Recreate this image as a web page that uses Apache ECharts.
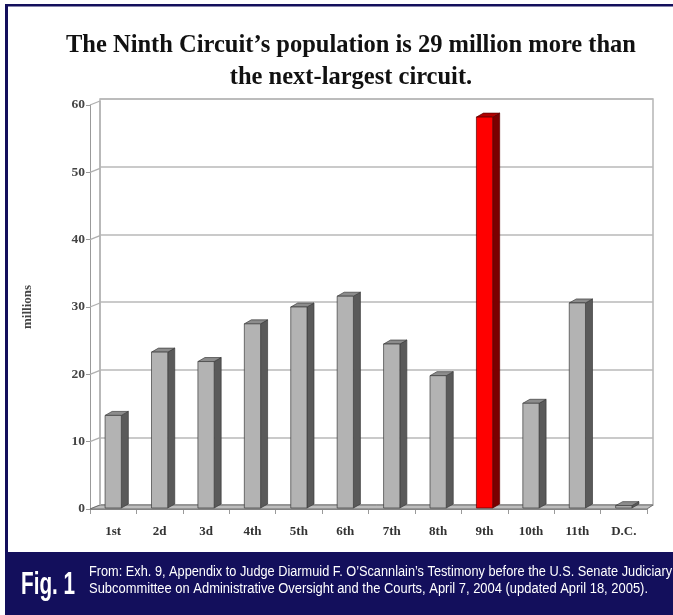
<!DOCTYPE html>
<html>
<head>
<meta charset="utf-8">
<script src="https://cdn.jsdelivr.net/npm/echarts@6/dist/echarts.min.js"></script>
<style>
html,body{margin:0;padding:0;background:#fff;}
#chart{width:673px;height:615px;}
</style>
</head>
<body>
<div id="chart"></div>
<script>
// ---- data ----
const categories = ['1st','2d','3d','4th','5th','6th','7th','8th','9th','10th','11th','D.C.'];
const populations = [13.9, 23.3, 21.9, 27.5, 30.0, 31.6, 24.5, 19.8, 58.2, 15.7, 30.6, 0.5];
const highlightCategory = '9th';
const yTicks = [0, 10, 20, 30, 40, 50, 60];
const titleLines = ["The Ninth Circuit\u2019s population is 29 million more than", "the next-largest circuit."];
const yAxisName = 'millions';
const figLabel = 'Fig. 1';
const sourceLines = [
  "From: Exh. 9, Appendix to Judge Diarmuid F. O\u2019Scannlain\u2019s Testimony before the U.S. Senate Judiciary",
  "Subcommittee on Administrative Oversight and the Courts, April 7, 2004 (updated April 18, 2005)."
];

// ---- styling helpers ----
const NAVY = '#130f5c';
const DX = 10, DY = 4;      // depth offset of the back wall
const BDX = 7, BDY = 4;     // depth of the bars
const ctx = document.createElement('canvas').getContext('2d');
function fitScale(text, font, width) { ctx.font = font; return width / ctx.measureText(text).width; }

const chart = echarts.init(document.getElementById('chart'), null, {renderer: 'canvas'});

const srcFont = '14px "Liberation Sans"';
const figFont = 'bold 32px "Liberation Sans"';

const option = {
  backgroundColor: '#fff',
  animation: false,
  title: {
    text: titleLines.join('\n'),
    left: 346,
    top: 25,
    textAlign: 'center',
    textStyle: {
      fontFamily: '"Liberation Serif", serif',
      fontWeight: 'bold',
      fontSize: 24.5,
      lineHeight: 32,
      color: '#111'
    }
  },
  grid: [
    {left: 90, right: 26, top: 105, bottom: 106, containLabel: false},
    {left: 100, right: 20, top: 99, bottom: 110, show: true, borderColor: '#b5b5b5', borderWidth: 1.5, backgroundColor: 'transparent'}
  ],
  xAxis: [
    {
      type: 'category', gridIndex: 0, data: categories,
      axisLine: {show: true, lineStyle: {color: '#9a9a9a', width: 1}},
      axisTick: {show: true, length: 5, alignWithLabel: false, lineStyle: {color: '#9a9a9a'}},
      axisLabel: {margin: 16, fontFamily: '"Liberation Serif", serif', fontWeight: 'bold', fontSize: 13, color: '#333'}
    },
    {type: 'category', gridIndex: 1, data: categories, show: false}
  ],
  yAxis: [
    {
      type: 'value', gridIndex: 0, min: 0, max: 60, interval: 10,
      name: yAxisName, nameLocation: 'middle', nameRotate: 90, nameGap: 56,
      nameTextStyle: {fontFamily: '"Liberation Serif", serif', fontWeight: 'bold', fontSize: 13, color: '#444'},
      axisLine: {show: true, lineStyle: {color: '#9a9a9a', width: 1}},
      axisTick: {show: true, length: 4, lineStyle: {color: '#9a9a9a'}},
      axisLabel: {margin: 5, fontFamily: '"Liberation Serif", serif', fontWeight: 'bold', fontSize: 13.5, color: '#444'},
      splitLine: {show: false}
    },
    {
      type: 'value', gridIndex: 1, min: 0, max: 60, interval: 10,
      axisLine: {show: false}, axisTick: {show: false}, axisLabel: {show: false},
      splitLine: {show: true, lineStyle: {color: '#b8b8b8', width: 1.5}}
    }
  ],
  series: [
    {
      // floor and left wall grid lines
      type: 'custom', xAxisIndex: 0, yAxisIndex: 0, z: 1,
      data: yTicks.map(v => [0, v]),
      renderItem: function (params, api) {
        const v = api.value(1);
        const p = api.coord([0, v]);
        const band = api.size([1, 0])[0];
        const xL = p[0] - band / 2;
        const children = [
          {type: 'line', shape: {x1: xL, y1: p[1], x2: xL + DX, y2: p[1] - DY}, style: {stroke: '#b0b0b0', lineWidth: 1.2}}
        ];
        if (v === 0) {
          const pr = api.coord([categories.length - 1, 0]);
          const xR = pr[0] + band / 2;
          children.push({type: 'polygon', shape: {points: [[xL, p[1]], [xR, p[1]], [xR + DX - 4, p[1] - DY], [xL + DX, p[1] - DY]]},
            style: {fill: '#bdbdbd', stroke: '#6e6e6e', lineWidth: 1}});
          children.push({type: 'line', shape: {x1: xL + DX, y1: p[1] - DY, x2: xL + DX, y2: api.coord([0, 60])[1] - DY}, style: {stroke: '#b5b5b5', lineWidth: 1.5}});
        }
        return {type: 'group', children: children};
      }
    },
    {
      type: 'custom', xAxisIndex: 0, yAxisIndex: 0, z: 3,
      data: populations.map((v, i) => [i, v]),
      renderItem: function (params, api) {
        const i = api.value(0), v = api.value(1);
        const top = api.coord([i, v]);
        const base = api.coord([i, 0]);
        const bw = api.size([1, 0])[0] * 0.35;
        const x0 = top[0] - bw / 2, x1 = top[0] + bw / 2;
        const yT = top[1], yB = base[1] - 1;
        const red = categories[i] === highlightCategory;
        const front = red ? '#ff0000' : '#b3b3b3';
        const side = red ? '#7a0000' : '#5a5a5a';
        const topc = red ? '#b00000' : '#8c8c8c';
        const stroke = red ? '#5a0000' : '#3c3c3c';
        return {type: 'group', children: [
          {type: 'polygon', shape: {points: [[x1, yT], [x1 + BDX, yT - BDY], [x1 + BDX, yB - BDY], [x1, yB]]}, style: {fill: side, stroke: stroke, lineWidth: 0.7}},
          {type: 'polygon', shape: {points: [[x0, yT], [x0 + BDX, yT - BDY], [x1 + BDX, yT - BDY], [x1, yT]]}, style: {fill: topc, stroke: stroke, lineWidth: 0.7}},
          {type: 'rect', shape: {x: x0, y: yT, width: bw, height: yB - yT}, style: {fill: front, stroke: stroke, lineWidth: 0.7}}
        ]};
      }
    }
  ],
  graphic: [
    {type: 'rect', shape: {x: 5, y: 552, width: 668, height: 63}, style: {fill: NAVY}, z: 10},
    {type: 'rect', shape: {x: 5, y: 4, width: 668, height: 2.5}, style: {fill: NAVY}, z: 10},
    {type: 'rect', shape: {x: 5, y: 4, width: 3, height: 550}, style: {fill: NAVY}, z: 10},
    {type: 'text', x: 21, y: 585, scaleX: fitScale(figLabel, figFont, 54), z: 11,
      style: {text: figLabel, font: figFont, fill: '#fff', verticalAlign: 'middle', textAlign: 'left'}},
    {type: 'text', x: 89, y: 572, scaleX: fitScale(sourceLines[0], srcFont, 583), z: 11,
      style: {text: sourceLines[0], font: srcFont, fill: '#fff', verticalAlign: 'middle', textAlign: 'left'}},
    {type: 'text', x: 89, y: 589, scaleX: fitScale(sourceLines[1], srcFont, 559), z: 11,
      style: {text: sourceLines[1], font: srcFont, fill: '#fff', verticalAlign: 'middle', textAlign: 'left'}}
  ]
};
chart.setOption(option);
</script>
</body>
</html>
